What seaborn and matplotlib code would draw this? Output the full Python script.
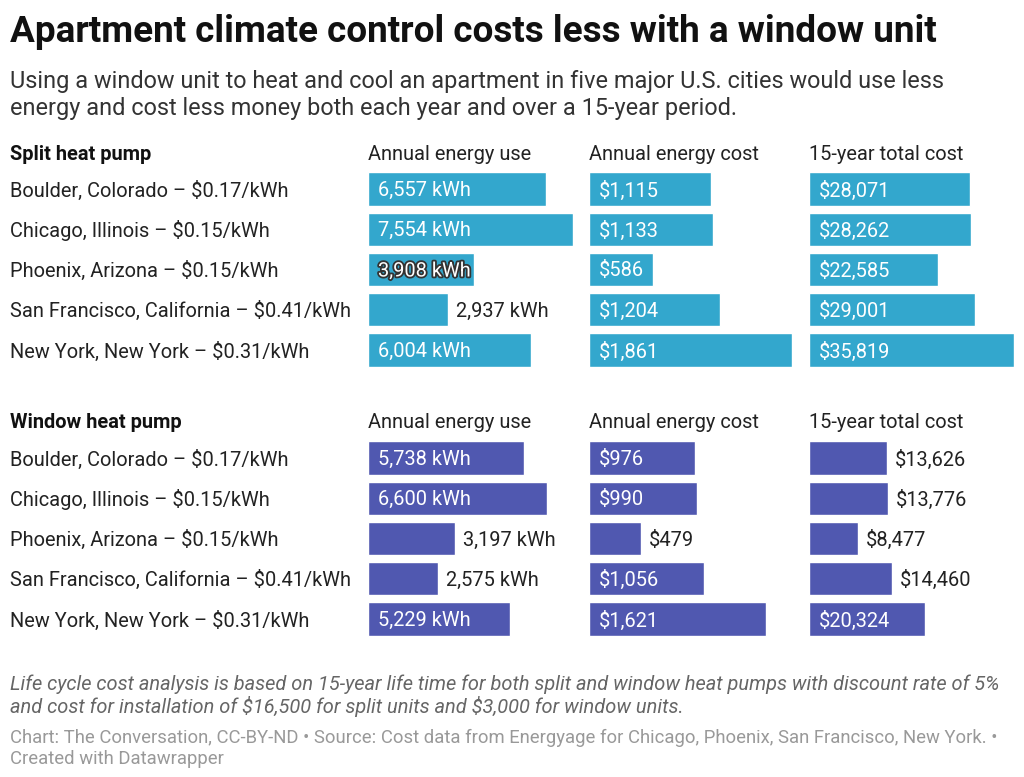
import matplotlib
matplotlib.use("Agg")
import matplotlib.pyplot as plt
import matplotlib.patheffects as pe
import matplotlib.transforms as mtransforms
import seaborn as sns
import pandas as pd

sns.set_theme(style="white")
plt.rcParams["font.family"] = ["Roboto", "DejaVu Sans"]
plt.rcParams["text.parse_math"] = False

cities = ["Boulder, Colorado – $0.17/kWh", "Chicago, Illinois – $0.15/kWh",
          "Phoenix, Arizona – $0.15/kWh", "San Francisco, California – $0.41/kWh",
          "New York, New York – $0.31/kWh"]
columns = ["Annual energy use", "Annual energy cost", "15-year total cost"]

split_energy = [6557, 7554, 3908, 2937, 6004]
split_cost = [1115, 1133, 586, 1204, 1861]
split_total = [28071, 28262, 22585, 29001, 35819]

window_energy = [5738, 6600, 3197, 2575, 5229]
window_cost = [976, 990, 479, 1056, 1621]
window_total = [13626, 13776, 8477, 14460, 20324]

# label placement (True = inside bar)
split_inside = [[True, True, True, False, True], [True] * 5, [True] * 5]
window_inside = [[True, True, False, False, True],
                 [True, True, False, True, True],
                 [False, False, False, False, True]]

split_color = "#33a7cd"
window_color = "#5058b0"

W, H = 1024, 777
fig = plt.figure(figsize=(W / 100, H / 100), dpi=100)
fig.patch.set_facecolor("white")

DY = 1.5

def fx(px):
    return px / W

def fy(py):
    return 1 - (py + DY) / H

BODY = 14.4

fig.text(fx(10), fy(31), "Apartment climate control costs less with a window unit",
         fontsize=26.6, fontweight="bold", color="#111111", va="center", ha="left")
fig.text(fx(10), fy(80), "Using a window unit to heat and cool an apartment in five major U.S. cities would use less",
         fontsize=16.9, color="#333333", va="center", ha="left")
fig.text(fx(10), fy(107), "energy and cost less money both each year and over a 15-year period.",
         fontsize=16.9, color="#333333", va="center", ha="left")

col_x = [368, 589, 809]
col_w = [205, 203, 205]
fmts = [lambda v: f"{v:,} kWh", lambda v: f"${v:,}", lambda v: f"${v:,}"]

sections = [
    ("Split heat pump", 153, 189, [split_energy, split_cost, split_total], split_color, split_inside),
    ("Window heat pump", 421, 458, [window_energy, window_cost, window_total], window_color, window_inside),
]
maxes = [max(split_energy + window_energy), max(split_cost + window_cost), max(split_total + window_total)]
spacing = 40.25

for title, hy, first_y, data, color, inside in sections:
    fig.text(fx(10), fy(hy), title, fontsize=BODY, fontweight="bold", color="#111111", va="center")
    for ci, cname in enumerate(columns):
        fig.text(fx(col_x[ci]), fy(hy), cname, fontsize=BODY, color="#222222", va="center")
    for ri, c in enumerate(cities):
        fig.text(fx(10), fy(first_y + ri * spacing), c, fontsize=BODY, color="#222222", va="center")
    top = first_y - spacing / 2
    bot = first_y + 4 * spacing + spacing / 2
    for ci in range(3):
        ax = fig.add_axes([fx(col_x[ci]), 1 - bot / H, col_w[ci] / W, (bot - top) / H])
        df = pd.DataFrame({"city": cities, "value": data[ci]})
        sns.barplot(data=df, x="value", y="city", orient="h", color=color,
                    saturation=1, width=0.82, ax=ax)
        ax.set_xlim(0, maxes[ci])
        ax.set_ylim(4.5, -0.5)
        ax.axis("off")
        shift = mtransforms.ScaledTranslation(0, -DY / 100, fig.dpi_scale_trans)
        tr = ax.transData + shift
        px_per_unit = col_w[ci] / maxes[ci]
        for ri, v in enumerate(data[ci]):
            label = fmts[ci](v)
            if inside[ci][ri]:
                t = ax.text(10 / px_per_unit, ri, label, color="white", fontsize=BODY,
                            va="center", ha="left", transform=tr)
                if ci == 0 and title.startswith("Split") and ri == 2:
                    t.set_path_effects([pe.withStroke(linewidth=2.6, foreground="#333333")])
            else:
                ax.text(v + 8 / px_per_unit, ri, label, color="#222222", fontsize=BODY,
                        va="center", ha="left", clip_on=False, transform=tr)

fig.text(fx(10), fy(683), "Life cycle cost analysis is based on 15-year life time for both split and window heat pumps with discount rate of 5%",
         fontsize=14.4, style="italic", color="#666666", va="center")
fig.text(fx(10), fy(705), "and cost for installation of $16,500 for split units and $3,000 for window units.",
         fontsize=14.4, style="italic", color="#666666", va="center")
fig.text(fx(10), fy(736), "Chart: The Conversation, CC-BY-ND • Source: Cost data from Energyage for Chicago, Phoenix, San Francisco, New York. •",
         fontsize=13.3, color="#999999", va="center")
fig.text(fx(10), fy(758), "Created with Datawrapper",
         fontsize=13.3, color="#999999", va="center")

fig.savefig("out.png", dpi=100, facecolor="white")
